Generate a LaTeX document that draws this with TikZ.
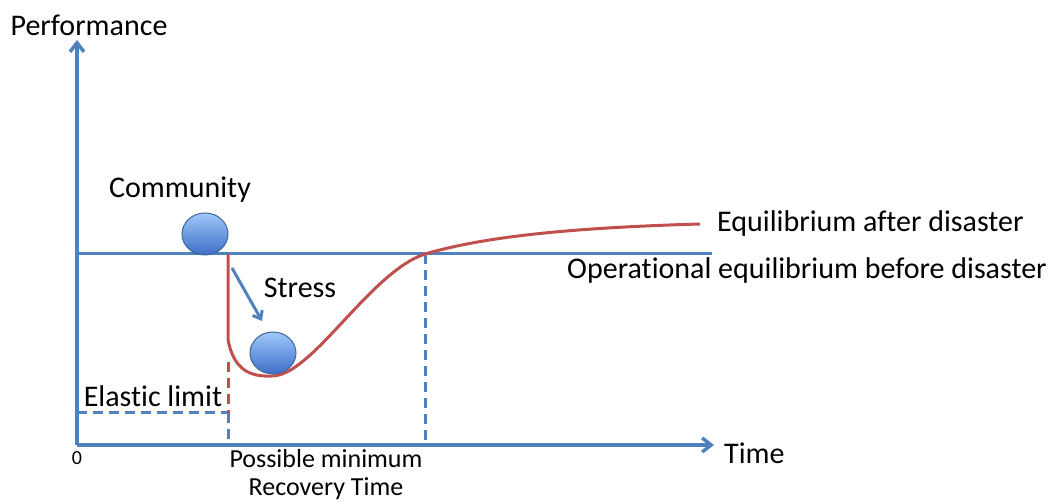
\documentclass[tikz,border=0pt]{standalone}
\usepackage{fontspec}
\setmainfont[Ligatures=NoCommon]{Carlito}
\usetikzlibrary{arrows.meta,shapes.geometric}
\definecolor{axisblue}{RGB}{79,129,189}
\definecolor{curvered}{RGB}{192,80,77}
\definecolor{balltop}{RGB}{160,200,250}
\definecolor{ballbot}{RGB}{60,110,200}
\tikzset{
  lbl/.style={font=\fontsize{30}{34}\selectfont, inner sep=0pt},
  ball/.style={ellipse, draw=axisblue!80!black, line width=1pt, top color=balltop,
    bottom color=ballbot, minimum width=46pt, minimum height=42pt},
  level/.style={axisblue, line width=3pt, dash pattern=on 10pt off 6pt}
}
\begin{document}
\begin{tikzpicture}[x=1pt, y=-1pt]
\useasboundingbox (0,0) rectangle (1053,502);
% Axes
\coordinate (origin) at (77,445);
\coordinate (ytip) at (77,40);
\coordinate (xtip) at (714,445);
\draw [axisblue, line width=3.5pt, -{Straight Barb[length=9pt,width=14pt]}] (origin) -- (ytip);
\draw [axisblue, line width=3.5pt, -{Straight Barb[length=9pt,width=14pt]}] (origin) -- (xtip);
\node [lbl] (perf) at (89,25) {Performance};
\node [lbl, anchor=west] (time) at (724,453) {Time};
\node [font=\fontsize{20}{24}\selectfont, inner sep=0pt] (zero) at (77,458) {0};

% Equilibrium before disaster
\coordinate (eqa) at (77,254);
\coordinate (eqb) at (712,254);
\draw [axisblue, line width=3pt] (eqa) -- (eqb);
\node [lbl, anchor=west] (before) at (567,271) {Operational equilibrium before disaster};

% Dashed guides
\coordinate (hit) at (228,254);
\coordinate (hitbase) at (228,445);
\coordinate (back) at (425,254);
\coordinate (backbase) at (425,445);
\coordinate (elastic) at (228,413);
\coordinate (elasticaxis) at (77,413);
\draw [level] (elastic) -- (hitbase);
\draw [level] (back) -- (backbase);
\draw [level] (elasticaxis) -- (elastic);
\node [lbl] (elasticlbl) at (153,396) {Elastic limit};
\node [font=\fontsize{26}{28}\selectfont, inner sep=0pt, align=center] (recovery) at (326,475) {Possible minimum\\Recovery Time};

% Performance curve
\draw [curvered, line width=3pt] (hit) -- (228,340)
  .. controls (234,370) and (250,377) .. (272,376)
  .. controls (312,376) and (370,272) .. (back)
  .. controls (480,238) and (560,228) .. (700,224);
\draw [curvered, line width=3pt, dash pattern=on 10pt off 6pt] (228,362) -- (elastic);
\node [lbl, anchor=west] (after) at (717,224) {Equilibrium after disaster};

% Community before and under stress
\node [ball] (community) at (205,234) {};
\node [lbl] (communitylbl) at (180,190) {Community};
\node [ball] (stressed) at (273,353) {};
\coordinate (push) at (232,268);
\coordinate (fall) at (262,321);
\draw [axisblue, line width=3pt, -{Straight Barb[length=7pt,width=11pt]}] (push) -- (fall);
\node [lbl] (stresslbl) at (300,288) {Stress};
\end{tikzpicture}
\end{document}
